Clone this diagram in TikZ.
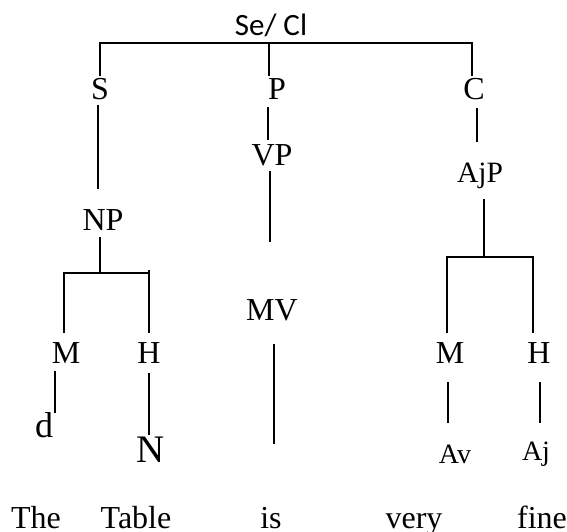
\documentclass[tikz,border=0pt]{standalone}
\usepackage{fontspec}
\setmainfont{Liberation Serif}
\newfontfamily\carlito{Carlito}
\begin{document}
\begin{tikzpicture}[x=1pt,y=-1pt,
  conn/.style={line width=1.5pt, line cap=butt},
  lbl/.style={anchor=base, inner sep=0pt, font=\fontsize{32}{36}\selectfont},
  small/.style={lbl, font=\fontsize{28}{32}\selectfont},
  big/.style={lbl, font=\fontsize{37}{40}\selectfont}]
\useasboundingbox (0,0) rectangle (567,531);
% labels
\node[lbl, font=\carlito\fontsize{31}{34}\selectfont] (root) at (271,35) {Se/ Cl};
\node[lbl] (S) at (100,99) {S};
\node[lbl] (P) at (277,99) {P};
\node[lbl] (C) at (474,99) {C};
\node[lbl] (VP) at (272,165) {VP};
\node[lbl, font=\fontsize{29.5}{33}\selectfont] (AjP) at (480,182) {AjP};
\node[lbl] (NP) at (103,230) {NP};
\node[lbl] (MV) at (272,320) {MV};
\node[lbl] (M1) at (66,363) {M};
\node[lbl] (H1) at (149,363) {H};
\node[lbl] (M2) at (450,363) {M};
\node[lbl] (H2) at (539,363) {H};
\node[big, font=\fontsize{36}{40}\selectfont] (d) at (44,437) {d};
\node[big, font=\fontsize{39}{42}\selectfont] (N) at (151,462) {N};
\node[small] (Av) at (455,463) {Av};
\node[small] (Aj) at (536,460) {Aj};
\node[lbl] (w1) at (36,528) {The};
\node[lbl] (w2) at (136,528) {Table};
\node[lbl] (w3) at (271,528) {is};
\node[lbl] (w4) at (414,528) {very};
\node[lbl] (w5) at (542,528) {fine};
% junction and end coordinates
\coordinate (tl) at (100,43);  \coordinate (tm) at (269,43);  \coordinate (tr) at (472,43);
\coordinate (sE) at (100,76);  \coordinate (pE) at (269,76);  \coordinate (cE) at (472,76);
\coordinate (s1) at (98,105);  \coordinate (s2) at (98,189);
\coordinate (p1) at (268,107); \coordinate (p2) at (268,140);
\coordinate (v1) at (270,171); \coordinate (v2) at (270,242);
\coordinate (c1) at (477,108); \coordinate (c2) at (477,142);
\coordinate (n1) at (100,237); \coordinate (nj) at (100,273);
\coordinate (nl) at (64,273);  \coordinate (nlE) at (64,333);
\coordinate (nr) at (149,273); \coordinate (nrT) at (149,270); \coordinate (nrE) at (149,333);
\coordinate (a1) at (484,199); \coordinate (aj) at (484,257);
\coordinate (al) at (447,257); \coordinate (alE) at (447,333);
\coordinate (ar) at (533,257); \coordinate (arE) at (533,333);
\coordinate (m1a) at (55,371);  \coordinate (m1b) at (55,413);
\coordinate (h1a) at (149,373); \coordinate (h1b) at (149,435);
\coordinate (mva) at (274,344); \coordinate (mvb) at (274,444);
\coordinate (m2a) at (448,382); \coordinate (m2b) at (448,423);
\coordinate (h2a) at (540,382); \coordinate (h2b) at (540,423);
% connectors
\draw[conn] (sE) -- (tl) -- (tr) -- (cE);
\draw[conn] (tm) -- (pE);
\draw[conn] (s1) -- (s2);
\draw[conn] (p1) -- (p2);
\draw[conn] (v1) -- (v2);
\draw[conn] (c1) -- (c2);
\draw[conn] (n1) -- (nj);
\draw[conn] (nlE) -- (nl) -- (nr);
\draw[conn] (nrT) -- (nrE);
\draw[conn] (a1) -- (aj);
\draw[conn] (alE) -- (al) -- (ar) -- (arE);
\draw[conn] (m1a) -- (m1b);
\draw[conn] (h1a) -- (h1b);
\draw[conn] (mva) -- (mvb);
\draw[conn] (m2a) -- (m2b);
\draw[conn] (h2a) -- (h2b);
\end{tikzpicture}
\end{document}
